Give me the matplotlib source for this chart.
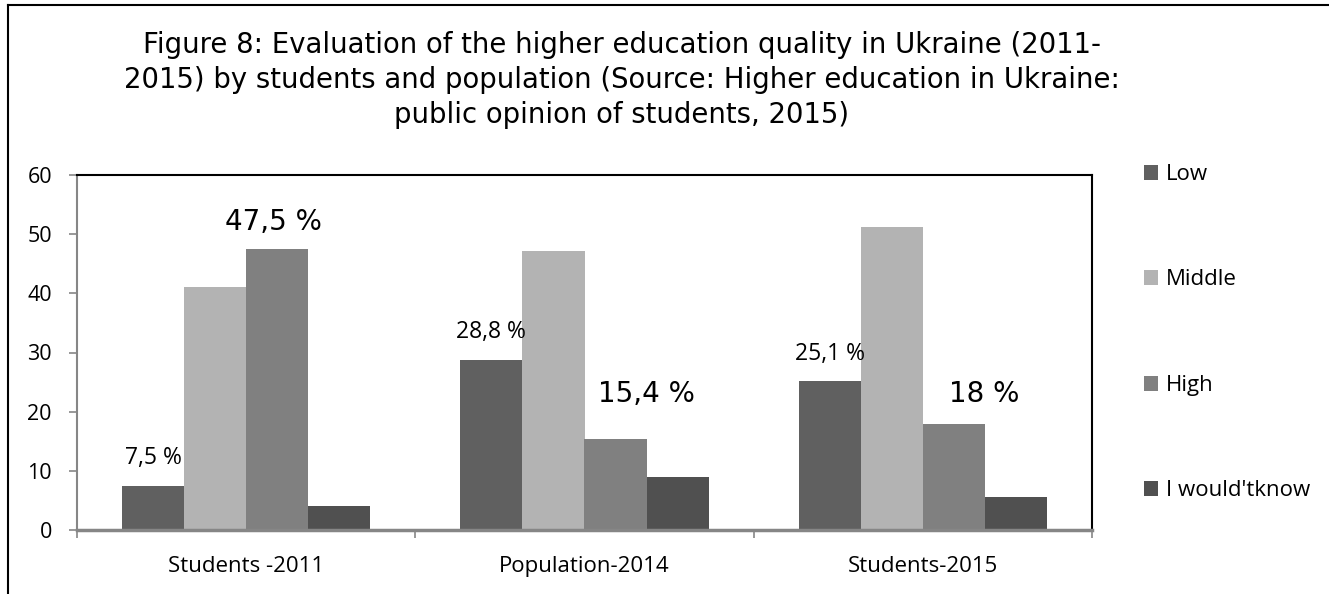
import numpy as np
import matplotlib
matplotlib.use('Agg')
import matplotlib.pyplot as plt
from matplotlib.lines import Line2D

# Données
categories = ['Students -2011', 'Population-2014', 'Students-2015']
series = ['Low', 'Middle', 'High', "I would'tknow"]
low = [7.5, 28.8, 25.1]
middle = [41.0, 47.2, 51.2]
high = [47.5, 15.4, 18.0]
dont_know = [4.1, 9.0, 5.6]
low_labels = ['7,5 %', '28,8 %', '25,1 %']
high_labels = ['47,5 %', '15,4 %', '18 %']
yticks = [0, 10, 20, 30, 40, 50, 60]

title = ('Figure 8: Evaluation of the higher education quality in Ukraine (2011-\n'
         '2015) by students and population (Source: Higher education in Ukraine:\n'
         'public opinion of students, 2015)')

colors = ['#606060', '#b3b3b3', '#808080', '#505050']
grey = '#868686'
lab_font = 'Open Sans'

fig = plt.figure(figsize=(13.29, 5.94), dpi=100)
ax = fig.add_axes([77/1329, 1-530/594, (1092-77)/1329, (530-175)/594])

x = np.arange(len(categories))
w = 0.1834
for i, (vals, name) in enumerate(zip([low, middle, high, dont_know], series)):
    ax.bar(x + (i - 1.5)*w, vals, w, color=colors[i], label=name, zorder=2)

ax.set_xlim(-0.5, 2.5)
ax.set_ylim(0, 60)

# étiquettes des barres
for k in range(3):
    ax.text(x[k] - 1.5*w, low[k] + 4.6, low_labels[k], ha='center', va='center',
            fontsize=16.5, family=lab_font)
ax.text(x[0] + 0.5*w - 0.01, high[0] + 4.5, high_labels[0], ha='center', va='center',
        fontsize=20, family='DejaVu Sans')
for k in [1, 2]:
    ax.text(x[k] + 0.5*w + 0.09, 23.0, high_labels[k], ha='center', va='center',
            fontsize=20, family='DejaVu Sans')

# axes
ax.set_yticks(yticks)
ax.set_yticklabels([str(t) for t in yticks], family=lab_font, fontsize=15.5)
ax.set_xticks([-0.5, 0.5, 1.5, 2.5])
ax.set_xticklabels([])
ax.set_xticks(x, minor=True)
ax.set_xticklabels(categories, minor=True, family=lab_font, fontsize=16)
ax.tick_params(axis='x', which='minor', length=0, pad=19)
ax.tick_params(axis='both', which='major', direction='out', length=6, color=grey, width=1.2)
ax.tick_params(axis='y', pad=12)
ax.spines['left'].set_color(grey)
ax.spines['left'].set_linewidth(1.5)
ax.spines['bottom'].set_color(grey)
ax.spines['bottom'].set_linewidth(2.5)
ax.spines['top'].set_color('black')
ax.spines['top'].set_linewidth(1.5)
ax.spines['right'].set_color('black')
ax.spines['right'].set_linewidth(1.5)

fig.text(622/1329, 1-80/594, title, ha='center', va='center', fontsize=19.8,
         family='DejaVu Sans', linespacing=1.3)

leg = ax.legend(loc='upper left', bbox_to_anchor=(1124/1329, 1-144/594),
                bbox_transform=fig.transFigure, frameon=False, prop={'family': lab_font, 'size': 16},
                handlelength=0.65, handleheight=0.65, handletextpad=0.35, labelspacing=3.8)

# cadre extérieur
fig.add_artist(Line2D([8/1329, 8/1329], [0, 1-5/594], color='black', lw=1.5))
fig.add_artist(Line2D([8/1329, 1], [1-5/594, 1-5/594], color='black', lw=1.5))

plt.savefig('out.png', dpi=100)
